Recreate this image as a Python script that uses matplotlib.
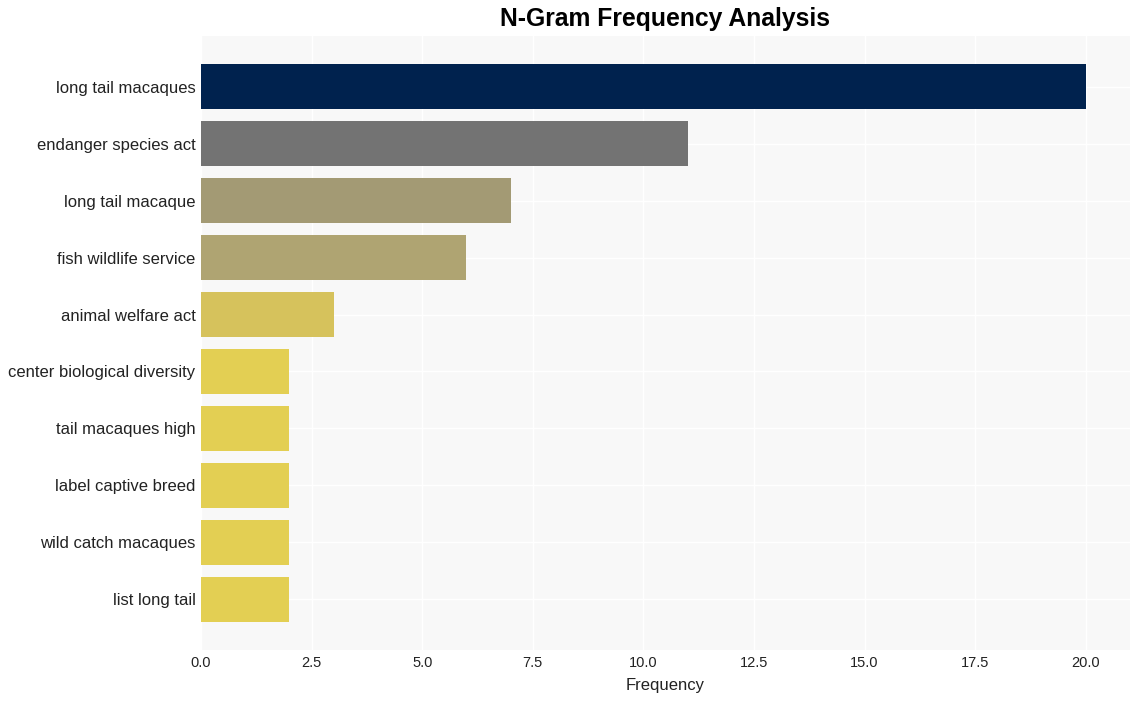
import matplotlib
matplotlib.use('Agg')
import matplotlib.pyplot as plt

plt.rcParams['font.family'] = ['Liberation Sans', 'DejaVu Sans']

# data
ngrams = ['long tail macaques', 'endanger species act', 'long tail macaque',
          'fish wildlife service', 'animal welfare act', 'center biological diversity',
          'tail macaques high', 'label captive breed', 'wild catch macaques',
          'list long tail']
counts = [20, 11, 7, 6, 3, 2, 2, 2, 2, 2]
bar_colors = ['#00224e', '#737373', '#a39a74', '#afa472', '#d6c25c',
              '#e3cf53', '#e3cf53', '#e3cf53', '#e3cf53', '#e3cf53']

fig = plt.figure(figsize=(11.4, 7.01), dpi=100)
ax = fig.add_axes([201 / 1140, 1 - 650 / 701, (1130 - 201) / 1140, (650 - 36) / 701])
ax.set_facecolor('#f8f8f8')

pos = list(range(len(ngrams)))
ax.barh(pos, counts, height=0.8, color=bar_colors, zorder=2)
ax.set_yticks(pos)
ax.set_yticklabels(ngrams, fontsize=12, color='#222222')
ax.invert_yaxis()
ax.set_xlim(0, 21)
ax.set_xticks([0, 2.5, 5, 7.5, 10, 12.5, 15, 17.5, 20])
ax.set_xticklabels(['0.0', '2.5', '5.0', '7.5', '10.0', '12.5', '15.0', '17.5', '20.0'],
                   fontsize=10.5, color='#222222')
ax.grid(True, color='white', linewidth=1, zorder=0)
ax.set_axisbelow(True)
for s in ax.spines.values():
    s.set_visible(False)
ax.tick_params(length=0, pad=4)
ax.set_xlabel('Frequency', fontsize=12, color='#222222', labelpad=6)
fig.suptitle('N-Gram Frequency Analysis', x=665 / 1140, y=1 - 7 / 701, va='top',
             fontsize=17.8, fontweight='bold')

fig.savefig('out.png', dpi=100)
